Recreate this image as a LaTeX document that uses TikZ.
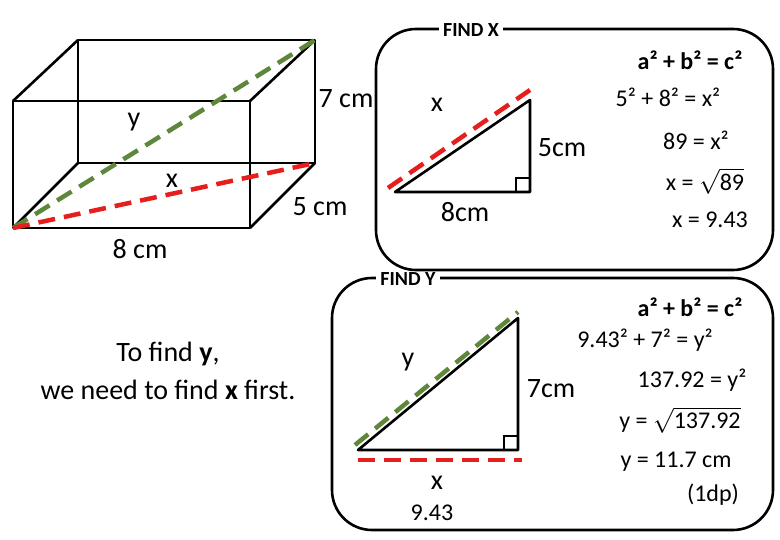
\documentclass[tikz,border=0pt]{standalone}
\usepackage{fontspec}
\setmainfont{Carlito}
\definecolor{rd}{RGB}{230,30,30}
\definecolor{gr}{RGB}{95,135,60}
\begin{document}
\begin{tikzpicture}[x=1pt,y=-1pt,
  ln/.style={line width=2.6pt,line join=round},
  rdash/.style={rd,line width=4.5pt,dash pattern=on 17pt off 9pt},
  gdash/.style={gr,line width=4.5pt,dash pattern=on 17pt off 9pt},
  panel/.style={line width=2.6pt,rounded corners=40pt},
  lbl/.style={font=\fontsize{28}{32}\selectfont,inner sep=0pt},
  eq/.style={font=\fontsize{24}{27}\selectfont,inner sep=0pt},
  eqb/.style={font=\fontsize{24}{27}\selectfont\bfseries,inner sep=0pt},
  ttl/.style={font=\fontsize{20}{22}\selectfont\bfseries,fill=white,inner xsep=4pt,inner ysep=1pt}]
\useasboundingbox (0,0) rectangle (780,540);
% box
\coordinate (A) at (13,228); \coordinate (B) at (250,228);
\coordinate (C) at (250,101); \coordinate (D) at (13,101);
\coordinate (E) at (78,163); \coordinate (F) at (315,163);
\coordinate (G) at (315,40); \coordinate (H) at (78,40);
\draw[ln] (A)--(B)--(C)--(D)--cycle;
\draw[ln] (E)--(F)--(G)--(H)--cycle;
\draw[ln] (A)--(E) (B)--(F) (C)--(G) (D)--(H);
\draw[gdash] (A)--(G);
\draw[rdash] (A)--(F);
\node[lbl] (ly) at (134,122) {y};
\node[lbl] (lx) at (172,181) {x};
\node[lbl] (l7) at (346,99) {7 cm};
\node[lbl] (l5) at (320,207) {5 cm};
\node[lbl] (l8) at (140,249) {8 cm};
% left text
\node[lbl,align=center] (txt) at (168,371) {To find \textbf{y},\\[6pt]we need to find \textbf{x} first.};
% FIND X
\draw[panel] (376,29) rectangle (773,270);
\node[ttl] (tx) at (471,30) {FIND X};
\coordinate (P1) at (395,192); \coordinate (P2) at (530,192); \coordinate (P3) at (530,100);
\draw[ln] (P1)--(P2)--(P3)--cycle;
\draw[line width=1.8pt] (516,192)--(516,178)--(530,178);
\coordinate (rx1) at (388,188); \coordinate (rx2) at (530,90);
\draw[rdash] (rx1)--(rx2);
\node[lbl] (xx) at (437,105) {x};
\node[lbl] (x5) at (562,148) {5cm};
\node[lbl] (x8) at (465,212) {8cm};
\node[eqb] (e1) at (690,60) {a² + b² = c²};
\node[eq] (e2) at (668,97) {5² + 8² = x²};
\node[eq] (e3) at (696,140) {89 = x²};
\node[eq] (e4) at (705,181) {x = $\sqrt{\hbox{89}}$};
\node[eq] (e5) at (710,220) {x = 9.43};
% FIND Y
\draw[panel] (332,278) rectangle (773,530);
\node[ttl] (ty) at (408,279) {FIND Y};
\coordinate (Q1) at (358,450); \coordinate (Q2) at (518,450); \coordinate (Q3) at (518,318);
\draw[ln] (Q1)--(Q2)--(Q3)--cycle;
\draw[line width=1.8pt] (504,450)--(504,436)--(518,436);
\coordinate (g1) at (355,445); \coordinate (g2) at (518,312);
\draw[gdash] (g1)--(g2);
\coordinate (r1) at (358,460); \coordinate (r2) at (522,460);
\draw[rdash] (r1)--(r2);
\node[lbl] (yy) at (408,362) {y};
\node[lbl] (y7) at (551,389) {7cm};
\node[lbl] (yx) at (437,483) {x};
\node[eq] (y9) at (432,513) {9.43};
\node[eqb] (f1) at (690,307) {a² + b² = c²};
\node[eq] (f2) at (645,340) {9.43² + 7² = y²};
\node[eq] (f3) at (692,380) {137.92 = y²};
\node[eq] (f4) at (680,420) {y = $\sqrt{\hbox{137.92}}$};
\node[eq] (f5) at (676,462) {y = 11.7 cm};
\node[eq] (f6) at (713,495) {(1dp)};
\end{tikzpicture}
\end{document}
